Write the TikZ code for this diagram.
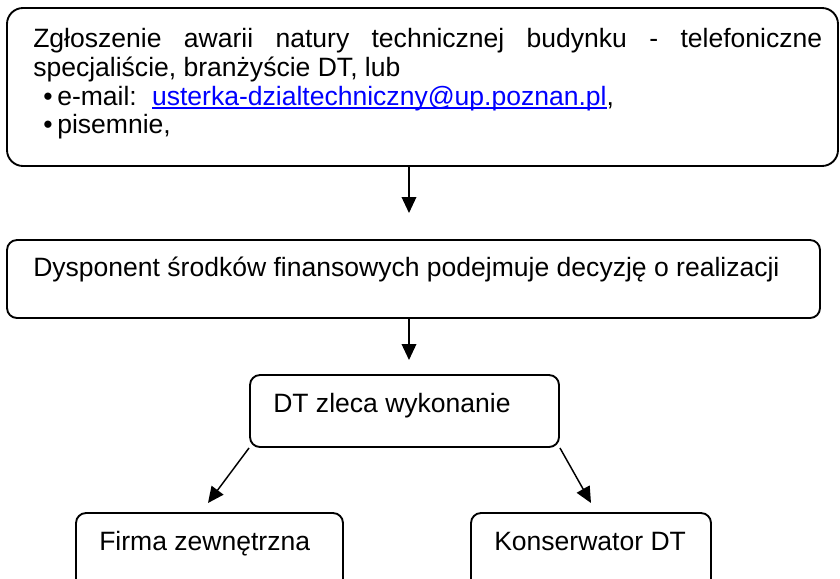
\documentclass[tikz,border=0pt]{standalone}
\usepackage{fontspec}
\setmainfont{Liberation Sans}
\usetikzlibrary{arrows.meta,fit}
\definecolor{linkblue}{RGB}{0,0,255}
\newcommand{\maillink}[1]{{\color{linkblue}\setbox0\hbox{#1}\rlap{\rule[-2.8pt]{\wd0}{1pt}}\box0}}
\begin{document}
\begin{tikzpicture}[x=0.75pt,y=-0.75pt,
  box/.style={draw, line width=1.4pt, inner sep=0pt, rounded corners=7.5pt},
  bigbox/.style={box, rounded corners=12pt},
  txt/.style={anchor=base west, inner sep=0pt, font=\fontsize{19.9}{23}\selectfont},
  arr/.style={line width=1.1pt, -{Triangle[length=12pt,width=11pt]}}]
\useasboundingbox (0,0) rectangle (840,579);
\clip (0,0) rectangle (840,579);
% boxes
\node[bigbox, fit={(7,8)(838,166)}] (b1) {};
\node[box, fit={(7,240)(820,318)}] (b2) {};
\node[box, fit={(250,375)(559,447)}] (b3) {};
\node[box, fit={(76,513)(343,640)}] (b4) {};
\node[box, fit={(471,513)(711,640)}] (b5) {};
% texts
\node[txt] (l1) at (33,47) {\hbox to 591.75pt{Zgłoszenie\hfill awarii\hfill natury\hfill technicznej\hfill budynku\hfill -\hfill telefoniczne}};
\node[txt] (l2) at (33,76) {specjaliście, branżyście DT, lub};
\node[txt] (bu1) at (43,105) {•};
\node[txt] (l3) at (57,105) {e-mail:\hspace{4pt} \maillink{usterka-dzialtechniczny@up.poznan.pl},};
\node[txt] (bu2) at (43,133) {•};
\node[txt] (l4) at (57,133) {pisemnie,};
\node[txt] (t2) at (33,276) {Dysponent środków finansowych podejmuje decyzję o realizacji};
\node[txt] (t3) at (273,412) {DT zleca wykonanie};
\node[txt] (t4) at (99,550) {Firma zewnętrzna};
\node[txt] (t5) at (494,550) {Konserwator DT};
% connectors
\coordinate (e1) at (409,213);
\coordinate (e2) at (409,360);
\coordinate (e3) at (208,503);
\coordinate (e4) at (591,503);
\draw[arr] (b1.south -| e1) -- (e1);
\draw[arr] (b2.south -| e2) -- (e2);
\draw[arr] (b3.south west) -- (e3);
\draw[arr] (b3.south east) -- (e4);
\end{tikzpicture}
\end{document}
